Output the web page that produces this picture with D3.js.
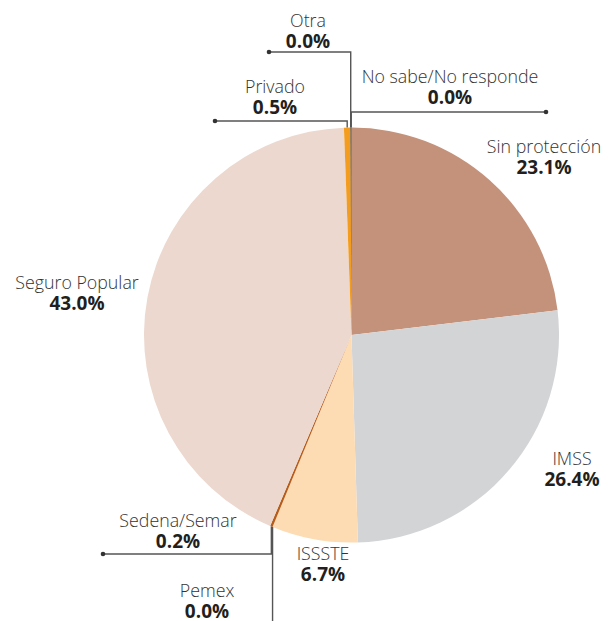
<!DOCTYPE html>
<html><head><meta charset="utf-8">
<script src="https://cdn.jsdelivr.net/npm/d3@7"></script>
<style>body{margin:0;background:#fff}svg{display:block}text{font-family:"Open Sans",sans-serif}</style>
</head><body>
<script>
const categories = ["Sin protección","IMSS","ISSSTE","Pemex","Sedena/Semar","Seguro Popular","Privado","Otra","No sabe/No responde"];
const values = [23.1, 26.4, 6.7, 0.0, 0.2, 43.0, 0.5, 0.04, 0.04];
const valueLabels = ["23.1%","26.4%","6.7%","0.0%","0.2%","43.0%","0.5%","0.0%","0.0%"];
const colors = ["#c4917a","#d3d4d6","#fddcb3","#8a4a1a","#b85c1a","#ecd8cf","#f39c1d","#333333","#333333"];

const W = 608, H = 621, cx = 351.5, cy = 335, R = 207.5;
const svg = d3.select("body").append("svg").attr("width", W).attr("height", H);
const g = svg.append("g").attr("transform", `translate(${cx},${cy})`);

const pie = d3.pie().sort(null).value(d => d)(values);
const arc = d3.arc().innerRadius(0).outerRadius(R);
g.selectAll("path").data(pie).enter().append("path")
  .attr("d", arc).attr("fill", (d, i) => colors[i]);

// leader line and label layout
const layout = {
  "Sin protección": {lx: 544, ly: 153},
  "IMSS": {lx: 572, ly: 465},
  "ISSSTE": {lx: 323, ly: 560},
  "Pemex": {lx: 207, ly: 597, route: "down", y: 640},
  "Sedena/Semar": {lx: 178, ly: 527, route: "downleft", y: 554, x: 103},
  "Seguro Popular": {lx: 77, ly: 289},
  "Privado": {lx: 275, ly: 93, route: "upleft", y: 121, x: 215},
  "Otra": {lx: 308, ly: 27, route: "upleft", y: 52, x: 269},
  "No sabe/No responde": {lx: 450, ly: 83, route: "upright", y: 112, x: 546}
};

const lines = svg.append("g");
const labels = svg.append("g");
pie.forEach((d, i) => {
  const L = layout[categories[i]];
  if (L.route) {
    const a = (d.startAngle + d.endAngle) / 2;
    const px = cx + R * Math.sin(a), py = cy - R * Math.cos(a);
    let pts;
    if (L.route === "down") pts = [[px, py], [px, L.y]];
    else pts = [[px, py], [px, L.y], [L.x, L.y]];
    lines.append("path").attr("d", d3.line()(pts))
      .attr("fill", "none").attr("stroke", "#555").attr("stroke-width", 1.4);
    if (L.route !== "down")
      lines.append("circle").attr("cx", L.x).attr("cy", L.y).attr("r", 2.3).attr("fill", "#333");
  }
  labels.append("text").attr("x", L.lx).attr("y", L.ly).attr("text-anchor", "middle")
    .attr("font-size", 17.8).attr("font-weight", 300).attr("fill", "#333").text(categories[i]);
  labels.append("text").attr("x", L.lx).attr("y", L.ly + 21).attr("text-anchor", "middle")
    .attr("font-size", 19).attr("font-weight", 700).attr("fill", "#231f20").text(valueLabels[i]);
});
</script>
</body></html>
